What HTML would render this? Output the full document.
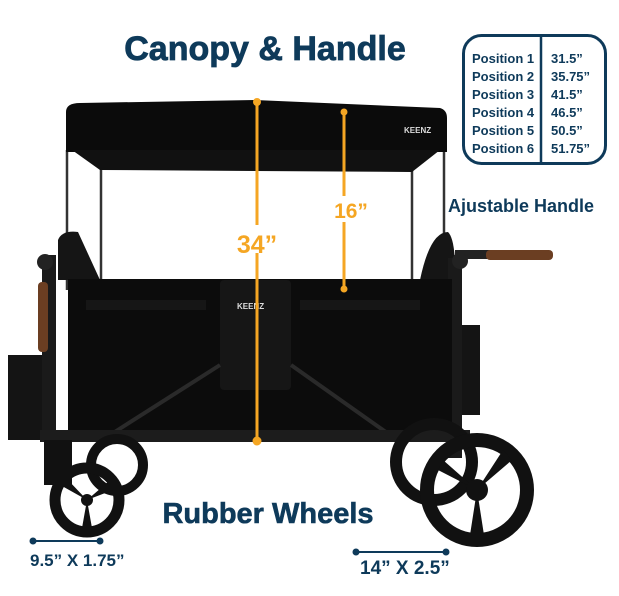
<!DOCTYPE html>
<html><head><meta charset="utf-8"><style>
body{margin:0;background:#fff;width:619px;height:591px;overflow:hidden}
svg text{font-family:"Liberation Sans",sans-serif;font-weight:bold}
</style></head><body>
<svg width="619" height="591" viewBox="0 0 619 591" xmlns="http://www.w3.org/2000/svg">
<text x="265" y="60" text-anchor="middle" font-size="34" fill="#0e3a5a" stroke="#0e3a5a" stroke-width="0.8">Canopy &amp; Handle</text>
<!-- table -->
<rect x="463.5" y="35.5" width="142" height="128" rx="18" fill="none" stroke="#0e3a5a" stroke-width="3"/>
<line x1="541" y1="35" x2="541" y2="164" stroke="#0e3a5a" stroke-width="2.5"/>
<g font-size="13" fill="#0e3a5a">
<text x="472" y="63">Position  1</text><text x="551" y="63">31.5”</text>
<text x="472" y="81">Position  2</text><text x="551" y="81">35.75”</text>
<text x="472" y="99">Position 3</text><text x="551" y="99">41.5”</text>
<text x="472" y="117">Position 4</text><text x="551" y="117">46.5”</text>
<text x="472" y="135">Position 5</text><text x="551" y="135">50.5”</text>
<text x="472" y="153">Position 6</text><text x="551" y="153">51.75”</text>
</g>
<text x="448" y="212" font-size="18" fill="#0e3a5a">Ajustable Handle</text>
<!-- poles -->
<g stroke="#333" stroke-width="2.5">
<line x1="67" y1="150" x2="67" y2="290"/><line x1="101" y1="160" x2="101" y2="285"/>
<line x1="412" y1="160" x2="412" y2="285"/><line x1="444" y1="150" x2="444" y2="290"/>
</g>
<!-- canopy -->
<path d="M66 112 Q66 103 80 103 L255 100 L440 108 Q447 110 447 118 L447 152 L66 152 Z" fill="#0b0b0b"/>
<path d="M72 150 L440 150 L412 172 L100 170 Z" fill="#111"/>
<text x="404" y="133" font-size="8" fill="#ddd">KEENZ</text>
<!-- seats -->
<path d="M58 240 Q62 230 78 232 L100 280 L58 280 Z" fill="#151515"/>
<path d="M420 280 Q430 232 448 232 Q456 240 455 280 Z" fill="#151515"/>
<!-- basket -->
<rect x="8" y="355" width="44" height="85" fill="#141414"/>
<rect x="455" y="325" width="25" height="90" fill="#141414"/>
<!-- frame -->
<rect x="42" y="255" width="14" height="185" fill="#1a1a1a"/>
<rect x="448" y="258" width="14" height="200" fill="#1a1a1a"/>
<rect x="38" y="282" width="10" height="70" rx="4" fill="#6b3e22"/>
<rect x="455" y="250" width="35" height="9" fill="#222"/>
<rect x="486" y="250" width="67" height="10" rx="4" fill="#6b3e22"/>
<circle cx="45" cy="262" r="8" fill="#222"/><circle cx="460" cy="261" r="8" fill="#222"/>
<!-- body -->
<rect x="68" y="279" width="384" height="156" fill="#0c0c0c"/>
<rect x="86" y="300" width="120" height="10" fill="#161616"/>
<rect x="300" y="300" width="120" height="10" fill="#161616"/>
<rect x="220" y="280" width="71" height="110" rx="4" fill="#161616"/>
<text x="237" y="309" font-size="8" fill="#ddd">KEENZ</text>
<g stroke="#2a2a2a" stroke-width="4"><line x1="110" y1="435" x2="220" y2="365"/><line x1="291" y1="365" x2="390" y2="435"/></g>
<rect x="40" y="430" width="430" height="12" fill="#1c1c1c"/>
<!-- wheels -->
<g fill="none" stroke="#111">
<circle cx="117" cy="465" r="26" stroke-width="10"/>
<circle cx="434" cy="462" r="38" stroke-width="12"/>
<circle cx="87" cy="500" r="32" stroke-width="11"/>
<circle cx="477" cy="490" r="50" stroke-width="14"/>
</g>
<g fill="#111"><rect x="44" y="440" width="28" height="45"/>
<path d="M477 490 L438 470 L443 460 Z M477 490 L503 450 L512 460 Z M477 490 L484 535 L470 535 Z"/><circle cx="477" cy="490" r="11"/>
<path d="M87 500 L62 486 L67 479 Z M87 500 L108 482 L113 490 Z M87 500 L92 528 L82 528 Z"/><circle cx="87" cy="500" r="6"/></g>
<!-- orange dims -->
<g stroke="#f5a623" stroke-width="3" fill="#f5a623">
<line x1="257" y1="102" x2="257" y2="225"/><line x1="257" y1="253" x2="257" y2="441"/>
<circle cx="257" cy="102" r="2.5"/><circle cx="257" cy="441" r="3"/>
<line x1="344" y1="112" x2="344" y2="196"/><line x1="344" y1="222" x2="344" y2="289"/>
<circle cx="344" cy="112" r="2"/><circle cx="344" cy="289" r="2"/>
</g>
<text x="257" y="253" text-anchor="middle" font-size="25" fill="#f5a623">34”</text>
<text x="351" y="218" text-anchor="middle" font-size="21" fill="#f5a623">16”</text>
<text x="268" y="523" text-anchor="middle" font-size="29" fill="#0e3a5a" stroke="#0e3a5a" stroke-width="0.6">Rubber Wheels</text>
<g stroke="#0e3a5a" stroke-width="2" fill="#0e3a5a">
<line x1="33" y1="541" x2="100" y2="541"/><circle cx="33" cy="541" r="2.5"/><circle cx="100" cy="541" r="2.5"/>
<line x1="356" y1="552" x2="446" y2="552"/><circle cx="356" cy="552" r="2.5"/><circle cx="446" cy="552" r="2.5"/>
</g>
<text x="30" y="566" font-size="17" fill="#0e3a5a">9.5” X 1.75”</text>
<text x="360" y="574" font-size="19" fill="#0e3a5a">14” X 2.5”</text>
</svg>
</body></html>
